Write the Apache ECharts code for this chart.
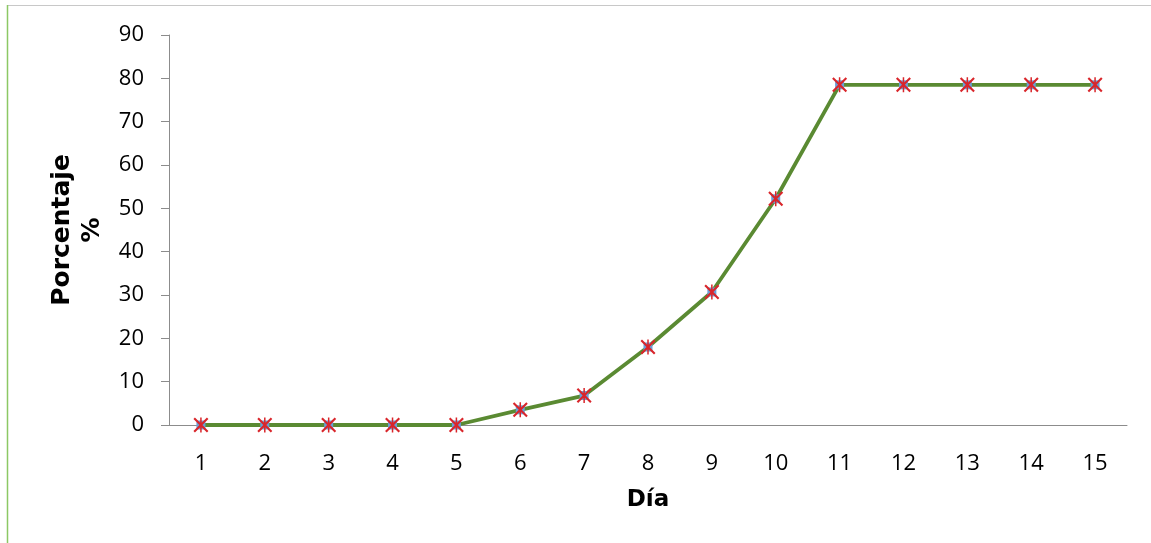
<!DOCTYPE html>
<html><head><meta charset="utf-8">
<script src="https://cdn.jsdelivr.net/npm/echarts@6/dist/echarts.min.js"></script>
<style>html,body{margin:0;padding:0;background:#fff}#c{width:1151px;height:543px}</style>
</head><body><div id="c"></div>
<script>
var dias = ['1','2','3','4','5','6','7','8','9','10','11','12','13','14','15'];
var porcentaje = [0,0,0,0,0,3.5,6.8,18,30.7,52.2,78.5,78.5,78.5,78.5,78.5];
var yTicks = {min:0, max:90, interval:10};

var xMark = 'path://M0,1 L1,0 L5,4 L9,0 L10,1 L6,5 L10,9 L9,10 L5,6 L1,10 L0,9 L4,5 Z M4.5,0 L5.5,0 L5.5,10 L4.5,10 Z';
var chart = echarts.init(document.getElementById('c'), null, {renderer:'canvas'});
chart.setOption({
  backgroundColor:'#fff',
  animation:false,
  grid:{left:169,right:24,top:35,bottom:118,containLabel:false},
  graphic:[
    {type:'line',shape:{x1:7,y1:5.5,x2:1151,y2:5.5},style:{stroke:'#c8c8c8',lineWidth:1}},
    {type:'line',shape:{x1:7.5,y1:5,x2:7.5,y2:543},style:{stroke:'#8cc864',lineWidth:1.5}}
  ],
  xAxis:{type:'category',data:dias,boundaryGap:true,
    axisLine:{lineStyle:{color:'#8c8c8c',width:1}},
    axisTick:{show:false},
    axisLabel:{color:'#000',fontSize:22,fontFamily:'Open Sans',margin:28},
    name:'Día',nameLocation:'middle',nameGap:64,
    nameTextStyle:{color:'#000',fontSize:23,fontWeight:'bold',fontFamily:'DejaVu Sans'}
  },
  yAxis:{type:'value',min:yTicks.min,max:yTicks.max,interval:yTicks.interval,
    axisLine:{show:true,lineStyle:{color:'#8c8c8c',width:1}},
    axisTick:{show:true,inside:false,length:8,lineStyle:{color:'#8c8c8c'}},
    splitLine:{show:false},
    axisLabel:{color:'#000',fontSize:22,fontFamily:'Open Sans',margin:25},
    name:'Porcentaje\n%',nameLocation:'middle',nameRotate:90,nameGap:62,
    nameTextStyle:{color:'#000',fontSize:25,fontWeight:'bold',fontFamily:'DejaVu Sans',lineHeight:30,align:'center'}
  },
  series:[
    {type:'line',data:porcentaje,symbol:'rect',symbolSize:9,z:2,
      lineStyle:{color:'#5a8a32',width:3.8},
      itemStyle:{color:'#6a9fd8'}},
    {type:'line',data:porcentaje,symbol:xMark,symbolSize:15,z:3,
      lineStyle:{opacity:0},
      itemStyle:{color:'#d9262b'}}
  ]
});
</script></body></html>
